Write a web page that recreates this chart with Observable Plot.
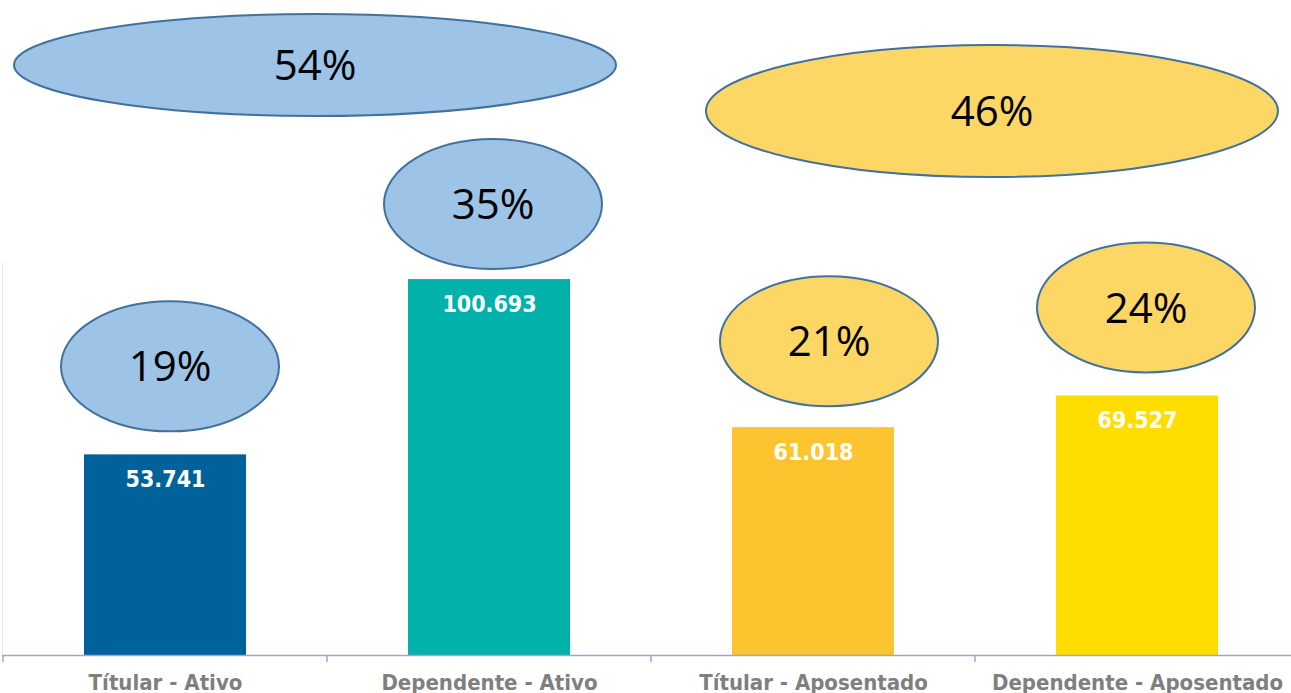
<!DOCTYPE html>
<html><head><meta charset="utf-8">
<script src="https://cdn.jsdelivr.net/npm/d3@7"></script>
<script src="https://cdn.jsdelivr.net/npm/@observablehq/plot@0.6"></script>
<style>body{margin:0;overflow:hidden;background:#fff} svg{max-width:none !important}</style>
</head><body><div id="chart"></div>
<script>
// ---- data ----
const categories = ["Títular - Ativo", "Dependente - Ativo", "Títular - Aposentado", "Dependente - Aposentado"];
const values = [53741, 100693, 61018, 69527];
const valueLabels = ["53.741", "100.693", "61.018", "69.527"];
const barColors = ["#00629B", "#00B2A9", "#FCC530", "#FFDD00"];
const sharePercents = ["19%", "35%", "21%", "24%"];
const groupPercents = ["54%", "46%"];
const groupMembers = [[0, 1], [2, 3]];
const groupColors = ["#9DC3E6", "#FDD766"];
const shareGroup = [0, 0, 1, 1];

// ---- layout (pixels, not data) ----
const smallEllipse = {rx: 109, ry: 65, dx: [5, 4, 16, 9], lift: [88, 75, 86, 88]};
const bigEllipse = {rx: [301, 286], ry: [51, 66], dx: [-12, 17], cy: [65, 111]};

const rows = categories.map((c, i) => ({cat: c, value: values[i], label: valueLabels[i], color: barColors[i]}));
const fontFamily = "'DejaVu Sans Condensed', 'DejaVu Sans', sans-serif";
const pctFont = "'Open Sans', sans-serif";

const chart = Plot.plot({
  width: 1300,
  height: 693,
  marginLeft: 2,
  marginRight: 0,
  marginTop: 263,
  marginBottom: 38,
  style: {fontFamily, background: "#fff", maxWidth: "none"},
  x: {domain: categories, paddingInner: 0.5, paddingOuter: 0.25, label: null},
  y: {domain: [0, 105000], axis: null},
  marks: [
    Plot.barY(rows, {x: "cat", y: "value", fill: "color"}),
    Plot.text(rows, {x: "cat", y: "value", text: "label", dy: 25, fill: "white", fontSize: 23, fontWeight: "bold", fontFamily}),
    Plot.ruleY([0], {stroke: "#A3A3CC", strokeWidth: 1.5}),
    Plot.axisX({tickSize: 0, tickPadding: 19, fontSize: 22, fontWeight: "bold", color: "#7F7F7F", label: null})
  ]
});
chart.style.maxWidth = "none";
document.getElementById("chart").appendChild(chart);

// ---- annotations drawn via the chart's own scales ----
const sx = chart.scale("x");
const sy = chart.scale("y");
const bw = sx.bandwidth;
const step = sx.step;
const center = c => sx.apply(c) + bw / 2;
const svg = d3.select(chart);
const y0 = sy.apply(0);
const yTop = sy.apply(sy.domain[1]);

// left faint frame line and band-boundary ticks
svg.append("line").attr("x1", sx.range[0] + 0.5).attr("x2", sx.range[0] + 0.5).attr("y1", yTop).attr("y2", y0)
  .attr("stroke", "#E6E6EE").attr("stroke-width", 1);
const g0 = svg.append("g");
categories.forEach(c => {
  const bx = center(c) - step / 2;
  g0.append("line").attr("x1", bx).attr("x2", bx).attr("y1", y0).attr("y2", y0 + 7)
    .attr("stroke", "#A3A3CC").attr("stroke-width", 1.5);
});

const ga = svg.append("g");
// big group ellipses
groupMembers.forEach((m, gi) => {
  const cx = (center(categories[m[0]]) + center(categories[m[1]])) / 2 + bigEllipse.dx[gi];
  const cy = bigEllipse.cy[gi];
  ga.append("ellipse").attr("cx", cx).attr("cy", cy).attr("rx", bigEllipse.rx[gi]).attr("ry", bigEllipse.ry[gi])
    .attr("fill", groupColors[gi]).attr("stroke", "#41719C").attr("stroke-width", 2);
  ga.append("text").attr("x", cx).attr("y", cy).attr("dy", "0.36em").attr("text-anchor", "middle")
    .attr("font-family", pctFont).attr("font-size", 42).attr("fill", "#000").text(groupPercents[gi]);
});
// small per-bar ellipses
categories.forEach((c, i) => {
  const cx = center(c) + smallEllipse.dx[i];
  const cy = sy.apply(values[i]) - smallEllipse.lift[i];
  ga.append("ellipse").attr("cx", cx).attr("cy", cy).attr("rx", smallEllipse.rx).attr("ry", smallEllipse.ry)
    .attr("fill", groupColors[shareGroup[i]]).attr("stroke", "#41719C").attr("stroke-width", 2);
  ga.append("text").attr("x", cx).attr("y", cy).attr("dy", "0.36em").attr("text-anchor", "middle")
    .attr("font-family", pctFont).attr("font-size", 42).attr("fill", "#000").text(sharePercents[i]);
});
</script>
</body></html>
